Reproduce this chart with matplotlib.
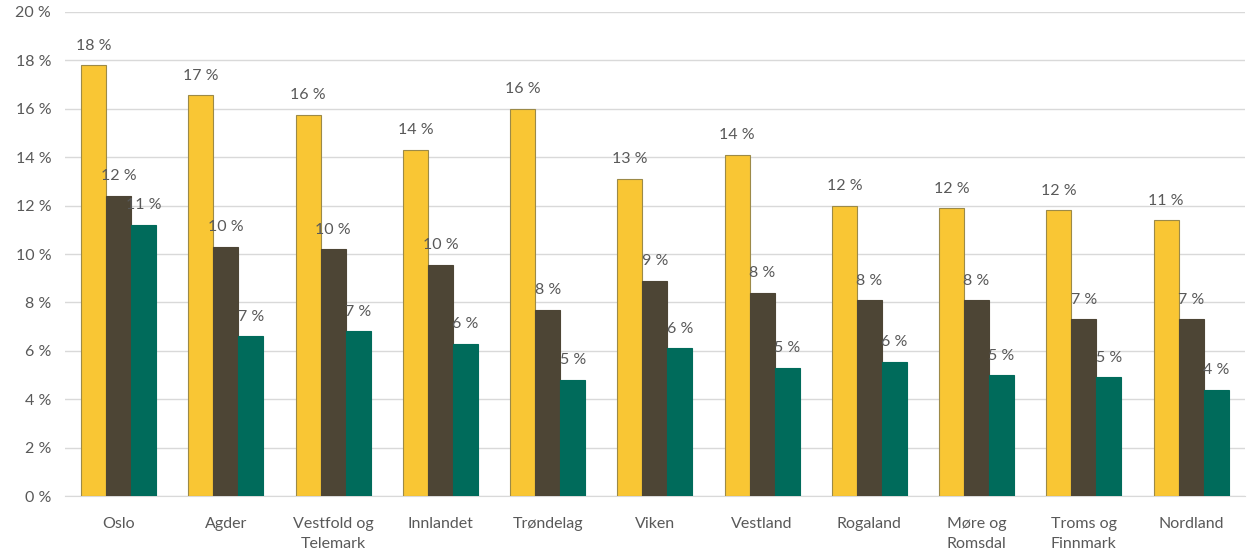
#!/usr/bin/env python3
# Grouped bar chart by region, three series in percent
import numpy as np
import matplotlib
matplotlib.use("Agg")
import matplotlib.pyplot as plt

# Data
regions = ["Oslo", "Agder", "Vestfold og\nTelemark", "Innlandet", "Trøndelag", "Viken",
           "Vestland", "Rogaland", "Møre og\nRomsdal", "Troms og\nFinnmark", "Nordland"]
series_yellow = [17.8, 16.55, 15.75, 14.3, 16.0, 13.1, 14.1, 12.0, 11.9, 11.8, 11.4]
series_brown = [12.4, 10.3, 10.2, 9.55, 7.7, 8.9, 8.4, 8.1, 8.1, 7.3, 7.3]
series_teal = [11.2, 6.6, 6.8, 6.3, 4.8, 6.1, 5.3, 5.55, 5.0, 4.9, 4.4]
y_ticks = [0, 2, 4, 6, 8, 10, 12, 14, 16, 18, 20]

plt.rcParams['font.family'] = ['Lato', 'DejaVu Sans']
text_color = '#595959'

fig = plt.figure(figsize=(12.56, 5.58), dpi=100)
ax = fig.add_axes([0.0518, 0.111, 0.9392, 0.8675])

x = np.arange(len(regions))
width = 0.233
colors = ['#F9C634', '#4D4535', '#006B5B']
edges = ['#9C8A48', '#4D4535', '#006B5B']

for i, (vals, col, ec) in enumerate(zip([series_yellow, series_brown, series_teal], colors, edges)):
    pos = x + (i - 1) * width
    bars = ax.bar(pos, vals, width, color=col, edgecolor=ec, linewidth=0.8, zorder=3)
    for b, v in zip(bars, vals):
        ax.annotate(f"{round(v + 1e-9):d} %", (b.get_x() + b.get_width() / 2, v),
                    xytext=(0, 9), textcoords='offset points', ha='center', va='bottom',
                    fontsize=11.5, color=text_color, zorder=4)

ax.set_xlim(-0.5, 10.5)
ax.set_ylim(0, 20)
ax.set_yticks(y_ticks)
ax.set_yticklabels([f"{t} %" for t in y_ticks])
ax.set_xticks(x)
ax.set_xticklabels(regions, linespacing=1.6)
ax.tick_params(axis='both', length=0, labelsize=11.5, colors=text_color)
ax.tick_params(axis='x', pad=15)
ax.tick_params(axis='y', pad=10)
ax.yaxis.grid(True, color='#D9D9D9', linewidth=1.0, zorder=0)
for s in ['top', 'right', 'left']:
    ax.spines[s].set_visible(False)
ax.spines['bottom'].set_color('#D9D9D9')

fig.savefig('out.png', dpi=100)
